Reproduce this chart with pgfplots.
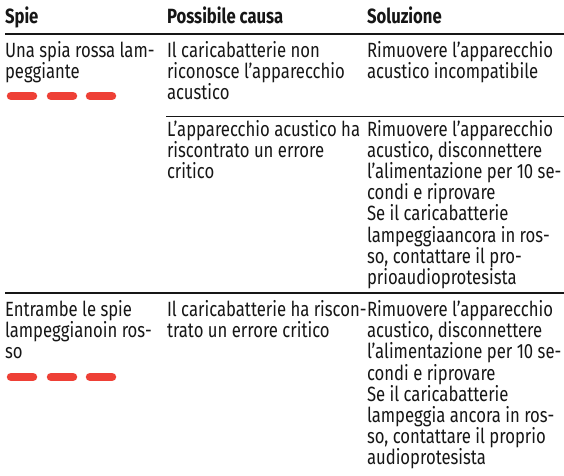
\documentclass[border=0pt]{standalone}
\usepackage{fontspec}
\setmainfont{Fira Sans}[FakeStretch=0.81]
\usepackage{pgfplots}
\pgfplotsset{compat=1.18}
\definecolor{txt}{HTML}{161616}
\definecolor{redc}{HTML}{EE4036}
\begin{document}
\begin{tikzpicture}[t/.style={anchor=base west,inner sep=0pt,outer sep=0pt,text=txt,font=\fontsize{20.6bp}{21bp}\selectfont},
  h/.style={t,font=\fontsize{20.6bp}{21bp}\selectfont\bfseries}]
\begin{axis}[width=564bp,height=476bp,scale only axis,
  xmin=0,xmax=564,ymin=0,ymax=476,y dir=reverse,hide axis,clip=false]
% rules
\addplot[txt,line width=1.3bp] coordinates {(5,34)(564,34)};
\addplot[txt,line width=1.0bp] coordinates {(166,117)(564,117)};
\addplot[txt,line width=1.6bp] coordinates {(5,293)(564,293)};
% red indicator dashes
\addplot[redc,line width=8.5bp,line cap=round] coordinates {(11,96)(33,96)};
\addplot[redc,line width=8.5bp,line cap=round] coordinates {(51,96)(73,96)};
\addplot[redc,line width=8.5bp,line cap=round] coordinates {(90,96)(112,96)};
\addplot[redc,line width=8.5bp,line cap=round] coordinates {(11,377)(33,377)};
\addplot[redc,line width=8.5bp,line cap=round] coordinates {(51,377)(73,377)};
\addplot[redc,line width=8.5bp,line cap=round] coordinates {(90,377)(112,377)};
% header
\node[h] at (axis cs:5,24) {Spie};
\node[h] at (axis cs:167,24) {Possibile causa};
\node[h] at (axis cs:367,24) {Soluzione};
% row 1
\node[t] at (axis cs:5,58) {Una spia rossa lam-};
\node[t] at (axis cs:5,79) {peggiante};
\node[t] at (axis cs:167,58) {Il caricabatterie non};
\node[t] at (axis cs:167,79) {riconosce l’apparecchio};
\node[t] at (axis cs:167,100) {acustico};
\node[t] at (axis cs:367,58) {Rimuovere l’apparecchio};
\node[t] at (axis cs:367,79) {acustico incompatibile};
\node[t] at (axis cs:167,136) {L’apparecchio acustico ha};
\node[t] at (axis cs:167,157) {riscontrato un errore};
\node[t] at (axis cs:167,178) {critico};
\node[t] at (axis cs:367,136) {Rimuovere l’apparecchio};
\node[t] at (axis cs:367,157) {acustico, disconnettere};
\node[t] at (axis cs:367,178) {l’alimentazione per 10 se-};
\node[t] at (axis cs:367,199) {condi e riprovare};
\node[t] at (axis cs:367,220) {Se il caricabatterie};
\node[t] at (axis cs:367,242) {lampeggiaancora in ros-};
\node[t] at (axis cs:367,263) {so, contattare il pro-};
\node[t] at (axis cs:367,284) {prioaudioprotesista};
% row 2
\node[t] at (axis cs:5,316) {Entrambe le spie};
\node[t] at (axis cs:5,337) {lampeggianoin ros-};
\node[t] at (axis cs:5,358) {so};
\node[t] at (axis cs:167,316) {Il caricabatterie ha riscon-};
\node[t] at (axis cs:167,337) {trato un errore critico};
\node[t] at (axis cs:367,316) {Rimuovere l’apparecchio};
\node[t] at (axis cs:367,337) {acustico, disconnettere};
\node[t] at (axis cs:367,358) {l’alimentazione per 10 se-};
\node[t] at (axis cs:367,380) {condi e riprovare};
\node[t] at (axis cs:367,401) {Se il caricabatterie};
\node[t] at (axis cs:367,422) {lampeggia ancora in ros-};
\node[t] at (axis cs:367,443) {so, contattare il proprio};
\node[t] at (axis cs:367,464) {audioprotesista};
\end{axis}
\pgfresetboundingbox
\path (current axis.south west) rectangle (current axis.north east);
\end{tikzpicture}
\end{document}
